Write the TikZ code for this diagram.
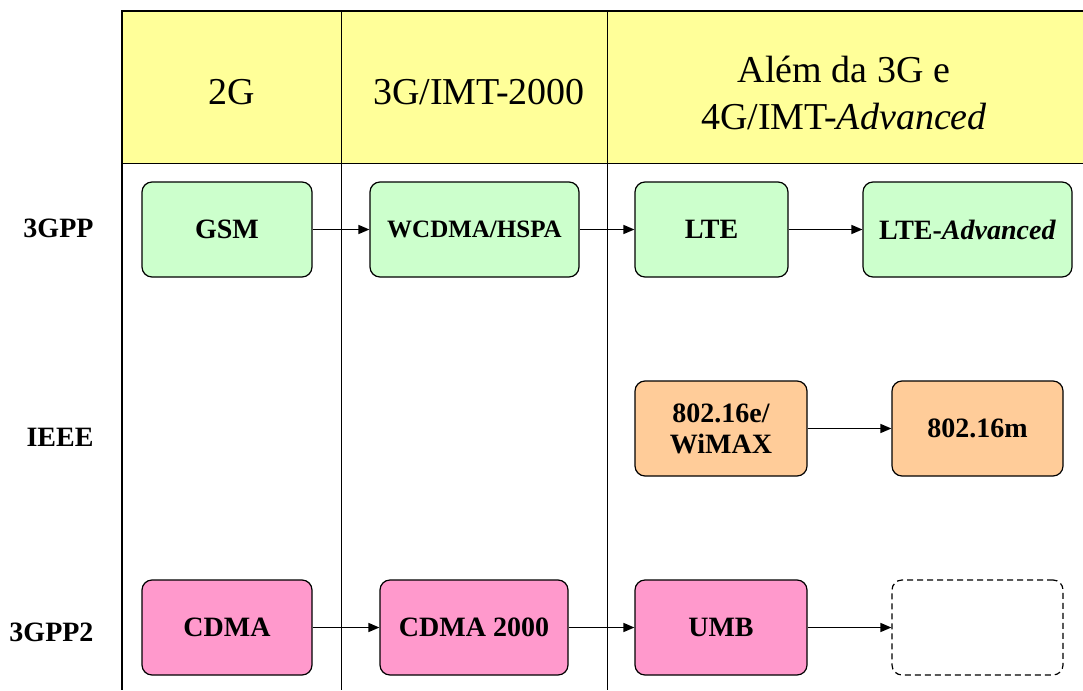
\documentclass[tikz,border=0pt]{standalone}
\usepackage{fontspec}
\setmainfont{Liberation Serif}
\usetikzlibrary{arrows.meta}
\definecolor{hdryellow}{HTML}{FFFF99}
\definecolor{gppgreen}{HTML}{CCFFCC}
\definecolor{ieeeorange}{HTML}{FFCC99}
\definecolor{gpptwopink}{HTML}{FF99CC}
\begin{document}
\begin{tikzpicture}[x=1pt,y=-1pt]
	\tikzset{techbox/.style={draw, line width=1.2pt, rounded corners=10pt, minimum height=95pt,
			inner sep=0pt, align=center, font=\bfseries\fontsize{28}{31}\selectfont}}
	\tikzset{gppbox/.style={techbox, fill=gppgreen}}
	\tikzset{ieeebox/.style={techbox, fill=ieeeorange}}
	\tikzset{pinkbox/.style={techbox, fill=gpptwopink}}
	\tikzset{emptybox/.style={techbox, dashed, dash pattern=on 6pt off 4pt}}
	\tikzset{header/.style={align=center, font=\fontsize{38}{47}\selectfont}}
	\tikzset{rowlabel/.style={anchor=east, font=\bfseries\fontsize{28}{31}\selectfont}}
	\tikzset{evolve/.style={line width=1.4pt, -{Triangle[length=11pt,width=9pt]}}}
	\useasboundingbox (0,0) rectangle (1083,690);
	% table
	\fill[hdryellow] (122,11) rectangle (1083,163);
	\draw[line width=0.8pt] (122,163) -- (1083,163);
	\draw[line width=1pt] (341,11) -- (341,690);
	\draw[line width=1pt] (607,11) -- (607,690);
	\draw[line width=2pt] (1083,11) -- (122,11) -- (122,690);
	% headers
	\node[header] (h2g) at (232,92) {2G};
	\node[header] (h3g) at (479,92) {3G/IMT-2000};
	\node[header] (h4g) at (844,93) {Além da 3G e\\4G/IMT-\textit{Advanced}};
	% rows
	\node[rowlabel] (r3gpp) at (97,228) {3GPP};
	\node[rowlabel] (rieee) at (97,437) {IEEE};
	\node[rowlabel] (r3gpp2) at (97,632) {3GPP2};
	% 3GPP
	\node[gppbox, minimum width=170pt] (gsm) at (227,229.5) {GSM};
	\node[gppbox, minimum width=209pt, font=\bfseries\fontsize{25}{30}\selectfont] (wcdma) at (474.5,229.5) {WCDMA/HSPA};
	\node[gppbox, minimum width=153pt] (lte) at (711.5,229.5) {LTE};
	\node[gppbox, minimum width=209pt] (lteadv) at (967.5,229.5) {LTE-\textit{Advanced}};
	% IEEE
	\node[ieeebox, minimum width=172pt] (wimax) at (721,428.5) {802.16e/\\WiMAX};
	\node[ieeebox, minimum width=171pt] (wman) at (977.5,428.5) {802.16m};
	% 3GPP2
	\node[pinkbox, minimum width=170pt] (cdma) at (227,627.5) {CDMA};
	\node[pinkbox, minimum width=188pt] (cdmatwok) at (474,627.5) {CDMA 2000};
	\node[pinkbox, minimum width=172pt] (umb) at (721,627.5) {UMB};
	\node[emptybox, minimum width=171pt] (future) at (977.5,627.5) {};
	% arrows
	\draw[evolve] (gsm) -- (wcdma);
	\draw[evolve] (wcdma) -- (lte);
	\draw[evolve] (lte) -- (lteadv);
	\draw[evolve] (wimax) -- (wman);
	\draw[evolve] (cdma) -- (cdmatwok);
	\draw[evolve] (cdmatwok) -- (umb);
	\draw[evolve] (umb) -- (future);
\end{tikzpicture}
\end{document}
